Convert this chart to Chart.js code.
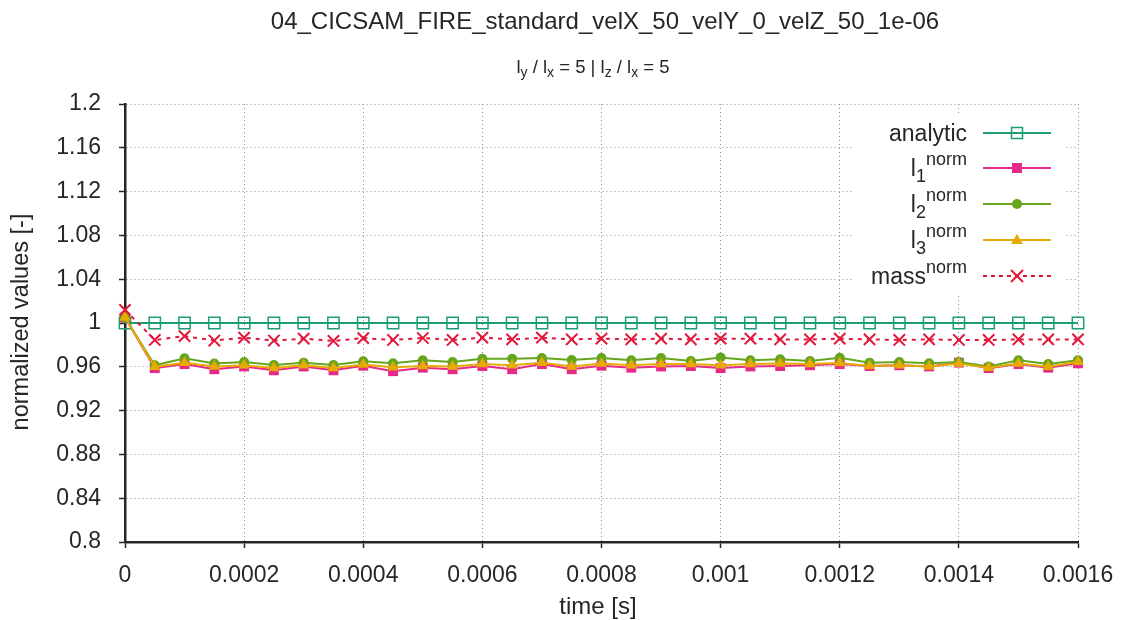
<!DOCTYPE html>
<html>
<head>
<meta charset="utf-8">
<script src="https://cdn.jsdelivr.net/npm/chart.js@4.4.1/dist/chart.umd.min.js"></script>
<style>
  html, body { margin: 0; padding: 0; background: #fff; }
  canvas { display: block; }
</style>
</head>
<body>
<canvas id="chart" width="1123" height="620"></canvas>
<script>
// time [s]
const times = [0, 0.00005, 0.0001, 0.00015, 0.0002, 0.00025, 0.0003, 0.00035, 0.0004, 0.00045,
  0.0005, 0.00055, 0.0006, 0.00065, 0.0007, 0.00075, 0.0008, 0.00085, 0.0009, 0.00095,
  0.001, 0.00105, 0.0011, 0.00115, 0.0012, 0.00125, 0.0013, 0.00135, 0.0014, 0.00145,
  0.0015, 0.00155, 0.0016];

const analytic = [1, 1, 1, 1, 1, 1, 1, 1, 1, 1, 1, 1, 1, 1, 1, 1, 1, 1, 1, 1, 1, 1, 1, 1, 1, 1, 1, 1, 1, 1, 1, 1, 1];

const l1Norm = [1.005, 0.9588, 0.9625, 0.9578, 0.9603, 0.9568, 0.9603, 0.9568, 0.961, 0.956,
  0.9592, 0.9578, 0.9607, 0.9578, 0.9625, 0.9578, 0.961, 0.9592, 0.9603, 0.9607,
  0.9588, 0.9603, 0.9607, 0.9614, 0.9625, 0.9607, 0.9614, 0.9603, 0.9638, 0.9588,
  0.9625, 0.9592, 0.9632];

const l2Norm = [1.005, 0.9614, 0.9678, 0.963, 0.9644, 0.9617, 0.9638, 0.9617, 0.965, 0.9632,
  0.966, 0.9644, 0.9674, 0.9674, 0.968, 0.9662, 0.968, 0.966, 0.968, 0.9653,
  0.9686, 0.966, 0.9668, 0.9653, 0.9683, 0.9638, 0.9644, 0.9632, 0.9644, 0.9603,
  0.966, 0.9625, 0.966];

const l3Norm = [1.005, 0.96, 0.9638, 0.9603, 0.9614, 0.9588, 0.9614, 0.959, 0.962, 0.9597,
  0.9607, 0.9603, 0.9625, 0.9614, 0.9638, 0.9603, 0.963, 0.9614, 0.9625, 0.9625,
  0.9614, 0.9625, 0.963, 0.9625, 0.9634, 0.9607, 0.9614, 0.9603, 0.963, 0.9592,
  0.963, 0.96, 0.9647];

const massNorm = [1.012, 0.9845, 0.988, 0.984, 0.9866, 0.984, 0.9857, 0.9836, 0.9862, 0.9845,
  0.9863, 0.9845, 0.9866, 0.985, 0.9866, 0.985, 0.9858, 0.985, 0.9857, 0.985,
  0.9857, 0.9857, 0.985, 0.985, 0.9857, 0.985, 0.9845, 0.985, 0.9845, 0.9845,
  0.985, 0.985, 0.985];

const FONT = '"Liberation Sans", Arial, Helvetica, sans-serif';
const TEXT = '#262626';
const C_ANALYTIC = '#1b9e77';
const C_L1 = '#e7298a';
const C_L2 = '#66a61e';
const C_L3 = '#e6ab02';
const C_MASS = '#e3173a';

function pts(ys) {
  return times.map((t, i) => ({ x: t, y: ys[i] }));
}

// text with sub/superscripts: segs = [[text, 'n'|'sub'|'sup'], ...]
function richText(ctx, segs, x, y, size, align) {
  const small = Math.round(size * 0.78);
  const parts = segs.map(([t, mode]) => {
    const fs = mode === 'n' ? size : small;
    ctx.font = fs + 'px ' + FONT;
    const dy = mode === 'sub' ? size * 0.3 : mode === 'sup' ? -size * 0.45 : 0;
    return { t, fs, dy, w: ctx.measureText(t).width };
  });
  const total = parts.reduce((s, p) => s + p.w, 0);
  let cx = align === 'right' ? x - total : align === 'center' ? x - total / 2 : x;
  ctx.textAlign = 'left';
  ctx.textBaseline = 'middle';
  ctx.fillStyle = TEXT;
  parts.forEach(p => {
    ctx.font = p.fs + 'px ' + FONT;
    ctx.fillText(p.t, cx, y + p.dy);
    cx += p.w;
  });
}

function marker(ctx, style, x, y, color) {
  ctx.save();
  ctx.strokeStyle = color;
  ctx.fillStyle = color;
  ctx.setLineDash([]);
  ctx.beginPath();
  if (style === 'openRect') {
    ctx.lineWidth = 1.5;
    ctx.strokeRect(x - 5.5, y - 5.5, 11, 11);
  } else if (style === 'rect') {
    ctx.fillRect(x - 5, y - 5, 10, 10);
  } else if (style === 'circle') {
    ctx.arc(x, y, 5, 0, Math.PI * 2);
    ctx.fill();
  } else if (style === 'triangle') {
    ctx.moveTo(x, y - 6);
    ctx.lineTo(x + 6, y + 4);
    ctx.lineTo(x - 6, y + 4);
    ctx.closePath();
    ctx.fill();
  } else if (style === 'cross') {
    ctx.lineWidth = 2;
    ctx.moveTo(x - 6, y - 6); ctx.lineTo(x + 6, y + 6);
    ctx.moveTo(x + 6, y - 6); ctx.lineTo(x - 6, y + 6);
    ctx.stroke();
  }
  ctx.restore();
}

const decorPlugin = {
  id: 'decor',
  afterDatasetsDraw(chart) {
    const ctx = chart.ctx;
    ctx.save();
    // opaque legend box
    ctx.fillStyle = '#fff';
    ctx.fillRect(853, 115, 212, 178);

    const entries = [
      { segs: [['analytic', 'n']], color: C_ANALYTIC, m: 'openRect', dash: [] },
      { segs: [['l', 'n'], ['1', 'sub'], ['norm', 'sup']], color: C_L1, m: 'rect', dash: [] },
      { segs: [['l', 'n'], ['2', 'sub'], ['norm', 'sup']], color: C_L2, m: 'circle', dash: [] },
      { segs: [['l', 'n'], ['3', 'sub'], ['norm', 'sup']], color: C_L3, m: 'triangle', dash: [] },
      { segs: [['mass', 'n'], ['norm', 'sup']], color: C_MASS, m: 'cross', dash: [4, 4] }
    ];
    const rowY = [133, 168, 204, 240, 276];
    entries.forEach((e, i) => {
      const y = rowY[i];
      richText(ctx, e.segs, 967, y + 2, 23, 'right');
      ctx.save();
      ctx.strokeStyle = e.color;
      ctx.lineWidth = 2;
      ctx.setLineDash(e.dash);
      ctx.beginPath();
      ctx.moveTo(983, y);
      ctx.lineTo(1051, y);
      ctx.stroke();
      ctx.restore();
      marker(ctx, e.m, 1017, y, e.color);
    });
    ctx.restore();
  },
  afterDraw(chart) {
    const ctx = chart.ctx;
    ctx.save();
    richText(ctx, [['04_CICSAM_FIRE_standard_velX_50_velY_0_velZ_50_1e-06', 'n']], 605, 22, 24, 'center');
    richText(ctx, [['l', 'n'], ['y', 'sub'], [' / l', 'n'], ['x', 'sub'], [' = 5 | l', 'n'], ['z', 'sub'],
      [' / l', 'n'], ['x', 'sub'], [' = 5', 'n']], 593, 68, 18.5, 'center');
    richText(ctx, [['time [s]', 'n']], 598, 607, 24, 'center');
    ctx.translate(22, 322);
    ctx.rotate(-Math.PI / 2);
    richText(ctx, [['normalized values [-]', 'n']], 0, 0, 23.5, 'center');
    ctx.restore();
  }
};

new Chart(document.getElementById('chart'), {
  type: 'line',
  data: {
    datasets: [
      {
        label: 'analytic', data: pts(analytic), order: 5,
        borderColor: C_ANALYTIC, borderWidth: 2,
        pointStyle: 'rect', pointRadius: 8, pointBorderWidth: 1.5,
        pointBackgroundColor: 'rgba(0,0,0,0)', pointBorderColor: C_ANALYTIC
      },
      {
        label: 'l1norm', data: pts(l1Norm), order: 4,
        borderColor: C_L1, borderWidth: 2,
        pointStyle: 'rect', pointRadius: 7, pointBorderWidth: 0,
        pointBackgroundColor: C_L1, pointBorderColor: C_L1
      },
      {
        label: 'l2norm', data: pts(l2Norm), order: 3,
        borderColor: C_L2, borderWidth: 2,
        pointStyle: 'circle', pointRadius: 5, pointBorderWidth: 0,
        pointBackgroundColor: C_L2, pointBorderColor: C_L2
      },
      {
        label: 'l3norm', data: pts(l3Norm), order: 2,
        borderColor: C_L3, borderWidth: 2,
        pointStyle: 'triangle', pointRadius: 6.5, pointBorderWidth: 0,
        pointBackgroundColor: C_L3, pointBorderColor: C_L3
      },
      {
        label: 'massnorm', data: pts(massNorm), order: 1,
        borderColor: C_MASS, borderWidth: 2, borderDash: [4, 5],
        pointStyle: 'crossRot', pointRadius: 8, pointBorderWidth: 2,
        pointBackgroundColor: C_MASS, pointBorderColor: C_MASS
      }
    ]
  },
  options: {
    responsive: false,
    animation: false,
    clip: false,
    layout: { padding: { top: 104, right: 45, left: 0, bottom: 0 } },
    elements: { line: { tension: 0, fill: false } },
    plugins: {
      legend: { display: false },
      title: { display: false },
      tooltip: { enabled: false }
    },
    scales: {
      x: {
        type: 'linear',
        min: 0,
        max: 0.0016,
        afterFit: (scale) => {
          scale.height = 78;
          scale.paddingLeft = 0;
          scale.paddingRight = 0;
        },
        ticks: {
          stepSize: 0.0002,
          color: TEXT,
          padding: 14,
          maxRotation: 0,
          font: { family: FONT, size: 23 },
          callback: (v) => String(Number(v.toFixed(5)))
        },
        grid: { color: '#8a8a8a', lineWidth: 1, tickColor: TEXT, tickLength: 6, tickWidth: 1.5 },
        border: { display: true, color: TEXT, width: 2.5, dash: [1, 3] }
      },
      y: {
        min: 0.8,
        max: 1.2,
        afterFit: (scale) => {
          scale.width = 125;
          scale.paddingTop = 0;
          scale.paddingBottom = 0;
        },
        ticks: {
          stepSize: 0.04,
          color: TEXT,
          padding: 18,
          font: { family: FONT, size: 23 },
          callback: (v) => String(Number(v.toFixed(2)))
        },
        grid: { color: '#8a8a8a', lineWidth: 1, tickColor: TEXT, tickLength: 6, tickWidth: 1.5 },
        border: { display: true, color: TEXT, width: 2.5, dash: [1, 3] }
      }
    }
  },
  plugins: [decorPlugin]
});
</script>
</body>
</html>
